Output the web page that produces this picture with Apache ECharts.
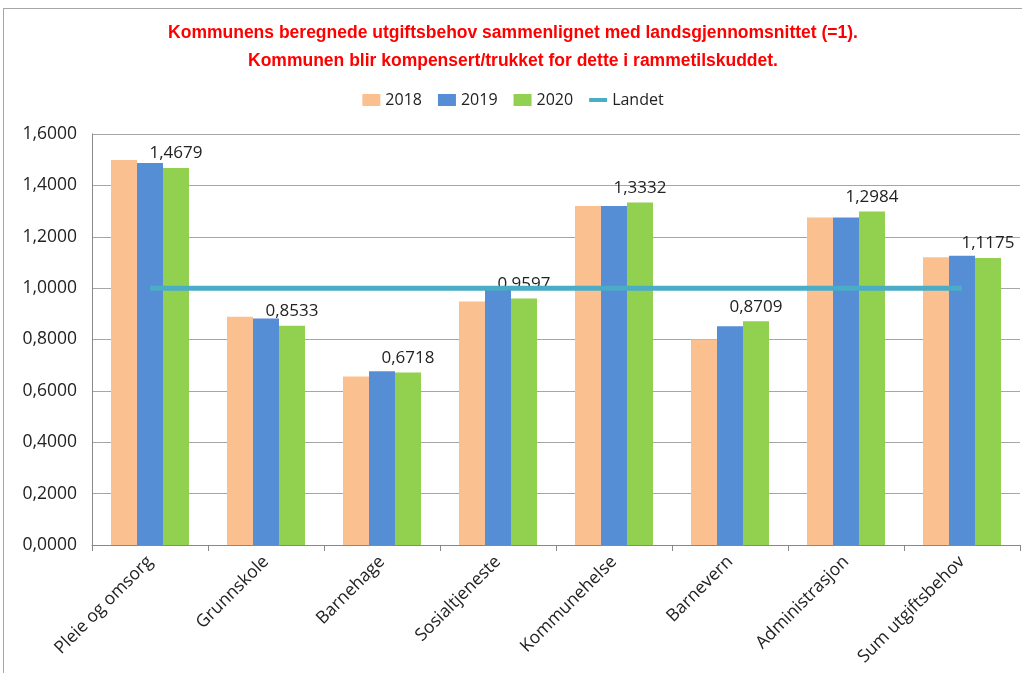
<!DOCTYPE html>
<html>
<head>
<meta charset="utf-8">
<script src="https://cdn.jsdelivr.net/npm/echarts@6/dist/echarts.min.js"></script>
<style>
  html, body { margin: 0; padding: 0; background: #fff; }
  #chart {
    position: absolute; left: 3px; top: 8px;
    width: 1019px; height: 665px;
    border: 1px solid #a6a6a6; border-right: none; border-bottom: none;
    box-sizing: border-box;
  }
</style>
</head>
<body>
<div id="chart"></div>
<script>
// kategorier og verdier lest av figuren
const categories = ['Pleie og omsorg', 'Grunnskole', 'Barnehage', 'Sosialtjeneste', 'Kommunehelse', 'Barnevern', 'Administrasjon', 'Sum utgiftsbehov']
const v2018 = [1.499, 0.889, 0.656, 0.948, 1.320, 0.800, 1.275, 1.120]
const v2019 = [1.487, 0.882, 0.676, 0.998, 1.320, 0.852, 1.275, 1.126]
const v2020 = [1.4679, 0.8533, 0.6718, 0.9597, 1.3332, 0.8709, 1.2984, 1.1175]
const landet = [1, 1, 1, 1, 1, 1, 1, 1]

const fmt = v => v.toFixed(4).replace('.', ',')
const font = "'Open Sans', 'Liberation Sans', sans-serif"

const chart = echarts.init(document.getElementById('chart'))
chart.setOption({
  animation: false,
  textStyle: { fontFamily: font },
  title: {
    text: 'Kommunens beregnede utgiftsbehov sammenlignet med landsgjennomsnittet (=1).\nKommunen blir kompensert/trukket for dette i rammetilskuddet.',
    left: 'center',
    top: 5,
    textStyle: {
      color: '#ff0000',
      fontSize: 17.5,
      fontWeight: 'bold',
      lineHeight: 28,
      fontFamily: "'Liberation Sans Narrow', 'Liberation Sans', sans-serif"
    }
  },
  legend: {
    top: 78,
    left: 'center',
    itemGap: 16,
    itemWidth: 18,
    itemHeight: 12,
    textStyle: { fontSize: 16, color: '#222', fontFamily: font },
    data: [
      { name: '2018', icon: 'rect' },
      { name: '2019', icon: 'rect' },
      { name: '2020', icon: 'rect' },
      { name: 'Landet', icon: 'path://M0,0 L18,0 L18,4 L0,4 Z' }
    ]
  },
  grid: { left: 88, right: 2, top: 125, bottom: 128 },
  xAxis: {
    type: 'category',
    data: categories,
    axisLine: { lineStyle: { color: '#888' } },
    axisTick: { show: true, length: 6, lineStyle: { color: '#888' } },
    axisLabel: { rotate: 45, fontSize: 17.5, color: '#222', margin: 14 }
  },
  yAxis: {
    type: 'value',
    min: 0,
    max: 1.6,
    interval: 0.2,
    axisLine: { show: true, lineStyle: { color: '#888' } },
    axisTick: { show: false },
    splitLine: { lineStyle: { color: '#a6a6a6', width: 1 } },
    axisLabel: { fontSize: 17.5, color: '#222', margin: 15, formatter: fmt }
  },
  series: [
    { name: '2018', type: 'bar', data: v2018, barWidth: 26, barGap: '0%', itemStyle: { color: '#fac090' } },
    { name: '2019', type: 'bar', data: v2019, barWidth: 26, barGap: '0%', itemStyle: { color: '#558ed5' } },
    {
      name: '2020', type: 'bar', data: v2020, barWidth: 26, barGap: '0%',
      itemStyle: { color: '#92d050' },
      label: { show: true, position: 'top', distance: 6, fontSize: 17, color: '#222', formatter: p => fmt(p.value) }
    },
    {
      name: 'Landet', type: 'line', data: landet, symbol: 'none',
      lineStyle: { color: '#4bacc6', width: 5 }, itemStyle: { color: '#4bacc6' }, z: 5
    }
  ]
})
</script>
</body>
</html>
